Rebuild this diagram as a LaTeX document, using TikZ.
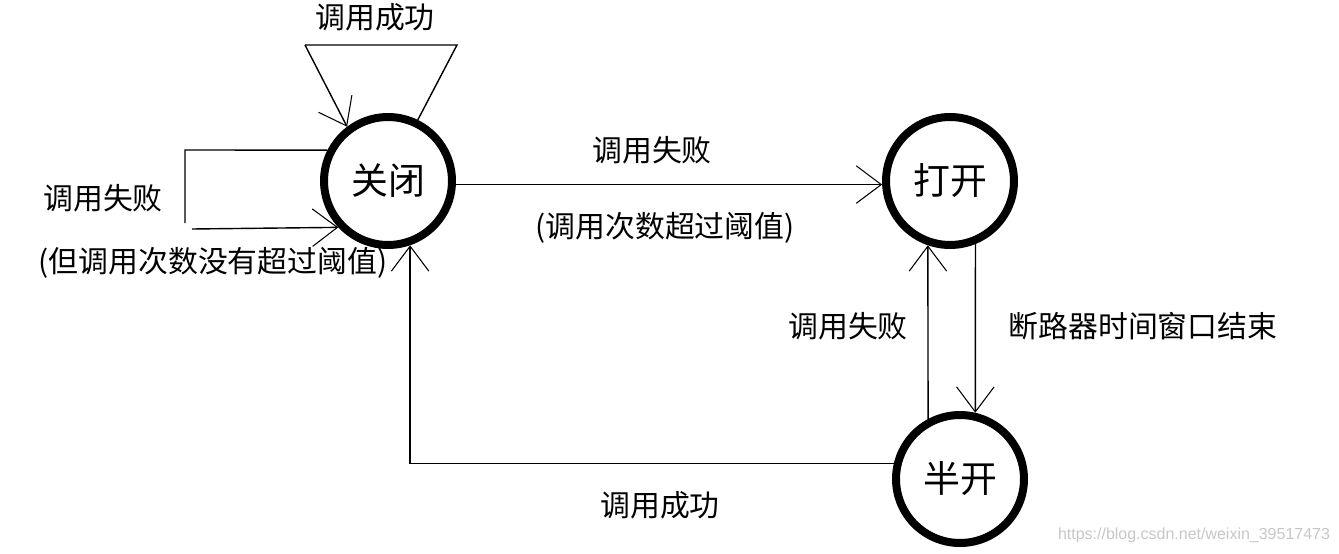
\documentclass[tikz,border=0pt]{standalone}
\usepackage{fontspec}
\setmainfont{Noto Sans CJK SC}
\newfontfamily\markfont{Liberation Sans}
\usetikzlibrary{arrows.meta}

\begin{document}
\begin{tikzpicture}[x=0.02cm, y=-0.02cm,
    statenode/.style={circle, draw, line width=0.16cm, minimum size=2.56cm,
                      inner sep=0pt, font=\fontsize{21}{25}\selectfont},
    edge/.style={line width=0.8pt, -{Straight Barb[length=0.5cm, width=0.75cm, line width=0.6pt]}},
    plain/.style={line width=0.8pt},
    lbl/.style={inner sep=0pt, font=\fontsize{17}{20}\selectfont}]

                \useasboundingbox (0,0) rectangle (1339,554);

                % ==========================================
                % STATES
                % ==========================================

                \node[statenode] (closed) at (388, 181) {关闭};
                \node[statenode] (open)   at (950, 181) {打开};
                \node[statenode] (half)   at (960, 479) {半开};

                % ==========================================
                % SELF LOOPS ON CLOSED
                % ==========================================

                % Corners of the loops
                \coordinate (TopR)  at (457, 45);
                \coordinate (TopL)  at (305, 45);
                \coordinate (SideT) at (185, 150); % Upper left corner
                \coordinate (SideB) at (185, 223); % End of the vertical bar
                \coordinate (SideS) at (192, 229); % Start of the lower bar

                % Loop over the top (call succeeded)
                \draw[plain] (closed.64) -- (TopR) -- (TopL);
                \draw[edge] (TopL) -- (closed.127);

                % Loop on the left (call failed, below threshold)
                \draw[plain] (closed.153) -- (SideT) -- (SideB);
                \draw[edge] (SideS) -- (closed.223);

                % ==========================================
                % TRANSITIONS BETWEEN STATES
                % ==========================================

                % Closed -> open
                \draw[edge] (closed.-3) -- (open.183);

                % Open -> half open, and back
                \draw[edge] (open.292) -- (half.77);
                \draw[edge] (half.118) -- (open.251);

                % Half open -> closed
                \draw[edge] (half.167) -| (closed.289);

                % ==========================================
                % LABELS
                % ==========================================

                \node[lbl] (lblTop)   at (375, 17)  {调用成功};
                \node[lbl] (lblSide)  at (103, 198) {调用失败};
                \node[lbl] (lblSideB) at (213, 263) {(但调用次数没有超过阈值)};
                \node[lbl] (lblMid)   at (652, 150) {调用失败};
                \node[lbl] (lblMidB)  at (665, 228) {(调用次数超过阈值)};
                \node[lbl] (lblUp)    at (848, 326) {调用失败};
                \node[lbl] (lblDown)  at (1143, 326) {断路器时间窗口结束};
                \node[lbl] (lblBack)  at (660, 505) {调用成功};

                % Watermark
                \node[inner sep=0pt, text=black!22, font=\markfont\fontsize{9.1}{11}\selectfont]
                    (mark) at (1194, 535) {https://blog.csdn.net/weixin\_39517473};

            \end{tikzpicture}
\end{document}
